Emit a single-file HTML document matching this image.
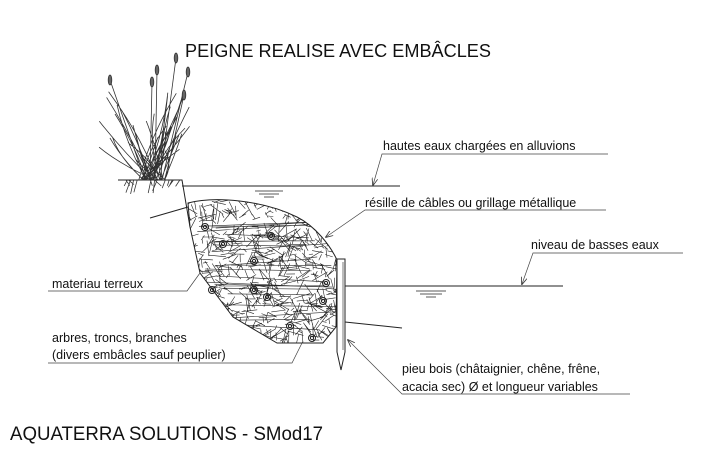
<!DOCTYPE html>
<html><head><meta charset="utf-8"><style>
html,body{margin:0;padding:0;background:#fff;}
svg{display:block;}
text{font-family:"Liberation Sans",Arial,sans-serif;fill:#111;}
</style></head><body>
<svg id="s" width="720" height="460" viewBox="0 0 720 460" xmlns="http://www.w3.org/2000/svg">
<defs>
<clipPath id="cp"><path d="M188,203 C215,196 262,200 297,217 C315,226 330,245 337,260 L336,327 L323,343 L277,343 L233,317 L200,273 L190,227 Z"/></clipPath>
<marker id="ar" markerWidth="8" markerHeight="6" refX="7" refY="3" orient="auto" markerUnits="userSpaceOnUse"><path d="M0,0 L8,3 L0,6" fill="none" stroke="#333" stroke-width="0.8"/></marker>
</defs>
<text x="185" y="57" font-size="18" textLength="306" lengthAdjust="spacingAndGlyphs">PEIGNE REALISE AVEC EMBÂCLES</text>
<g stroke="#222" fill="none" stroke-width="1">
<path d="M118,180 L182,180 L190,227"/>
<path d="M182,186 L400,186"/>
<path d="M150,218 L188,207" />
<path d="M255,191 L283,191 M259,194 L279,194 M264,197 L274,197" stroke-width="0.8"/>
<path d="M188,203 C215,196 262,200 297,217 C315,226 330,245 337,260 L336,327 L323,343 L277,343 L233,317 L200,273 L190,227 Z" stroke-width="1"/>
<path d="M345,286 L563,286"/>
<path d="M416,291 L446,291 M420,294 L442,294 M426,297 L436,297" stroke-width="0.8"/>
<path d="M345,322 L402,328"/>
</g>
<g id="mesh" clip-path="url(#cp)" stroke="#222" stroke-width="0.6" fill="none"></g>
<g id="logs" fill="none" stroke="#222" stroke-width="1"></g>
<g stroke="#222" fill="none" stroke-width="1">
<path d="M337,259 L345,259 L345,352 L341,370 L337,352 Z" fill="#fff"/>
<path d="M343,262 L343,350" stroke-width="0.6"/>
</g>
<g id="plant" stroke="#333" stroke-width="0.8" fill="none"></g>
<g stroke="#444" stroke-width="0.7" fill="none">
<path d="M608,154 L382,154 L373,185" marker-end="url(#ar)"/>
<path d="M606,210 L365,210 L326,237" marker-end="url(#ar)"/>
<path d="M683,253 L533,253 L522,284" marker-end="url(#ar)"/>
<path d="M630,394 L402,394 L348,340" marker-end="url(#ar)"/>
<path d="M48,291 L187,291 L200,273"/>
<path d="M48,363 L292,363 L303,341"/>
</g>
<g font-size="12.5">
<text x="383" y="150">hautes eaux chargées en alluvions</text>
<text x="365" y="207">résille de câbles ou grillage métallique</text>
<text x="531" y="249">niveau de basses eaux</text>
<text x="52" y="288">materiau terreux</text>
<text x="52" y="342">arbres, troncs, branches</text>
<text x="52" y="359">(divers embâcles sauf peuplier)</text>
<text x="402" y="373">pieu bois (châtaignier, chêne, frêne,</text>
<text x="402" y="391">acacia sec) Ø et longueur variables</text>
</g>
<text x="10" y="440" font-size="19" textLength="313" lengthAdjust="spacingAndGlyphs">AQUATERRA SOLUTIONS - SMod17</text>
<script>
(function(){
var s=12345;function r(){s=(s*1103515245+12345)%2147483648;return s/2147483648;}
var NS="http://www.w3.org/2000/svg";
var m=document.getElementById('mesh'),d="";
for(var i=0;i<700;i++){var x=185+r()*155,y=198+r()*148;var a=r()*Math.PI*2,l=4+r()*14;
d+="M"+x.toFixed(1)+","+y.toFixed(1)+"L"+(x+Math.cos(a)*l).toFixed(1)+","+(y+Math.sin(a)*l).toFixed(1);}
for(var i=0;i<22;i++){var y=225+r()*100,x=195+r()*40;d+="M"+x+","+y+"L"+(x+80+r()*60)+","+(y-8+r()*16);}
var p=document.createElementNS(NS,'path');p.setAttribute('d',d);m.appendChild(p);
var logs=[[205,227],[223,244],[271,236],[254,261],[212,290],[267,297],[326,283],[323,301],[290,326],[312,338],[254,290]];
var g=document.getElementById('logs');
logs.forEach(function(c){[3.5,1.6].forEach(function(rr){var e=document.createElementNS(NS,'circle');e.setAttribute('cx',c[0]);e.setAttribute('cy',c[1]);e.setAttribute('r',rr);g.appendChild(e);});});
var pl=document.getElementById('plant'),pd="";
for(var i=0;i<40;i++){var bx=138+r()*28,tx=98+r()*92,ty=90+r()*70;var cx=(bx+tx)/2+(r()-0.5)*20;
pd+="M"+bx.toFixed(1)+",180Q"+cx.toFixed(1)+","+((180+ty)/2).toFixed(1)+" "+tx.toFixed(1)+","+ty.toFixed(1);}
pd+="M155,180L157,70 M160,180L176,58 M150,180L152,82 M165,180L184,95 M145,180L110,80 M162,180L188,72";
for(var i=0;i<16;i++){var x=125+r()*55,y=180;pd+="M"+x.toFixed(1)+","+y+"l"+((r()-0.5)*14).toFixed(1)+","+(4+r()*10).toFixed(1);}
var pp=document.createElementNS(NS,'path');pp.setAttribute('d',pd);pl.appendChild(pp);
[[157,70],[176,58],[152,82],[184,95],[110,80],[188,72]].forEach(function(c){var e=document.createElementNS(NS,'ellipse');e.setAttribute('cx',c[0]);e.setAttribute('cy',c[1]);e.setAttribute('rx',1.8);e.setAttribute('ry',5);e.setAttribute('fill','#666');pl.appendChild(e);});
})();
</script>
</svg>
</body></html>
